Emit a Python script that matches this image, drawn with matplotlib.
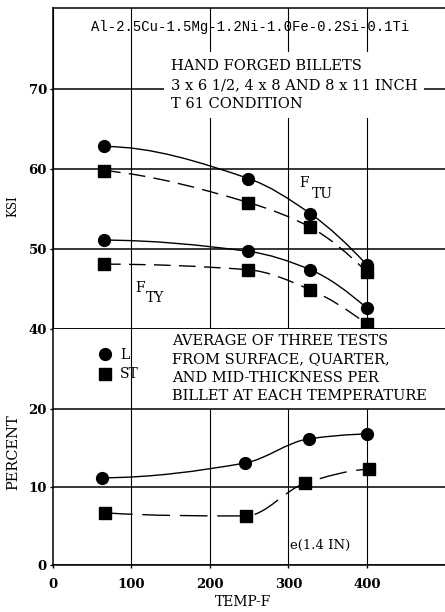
import matplotlib.pyplot as plt
import numpy as np
from matplotlib.path import Path
from matplotlib.patches import PathPatch
from matplotlib.lines import Line2D

plt.rcParams['font.family'] = ['DejaVu Serif']
plt.rcParams['lines.scale_dashes'] = False

# test temperatures, deg F
temp_tension = [65, 249, 328, 400]
temp_elong_L = [63, 245, 326, 400]
temp_elong_ST = [66, 246, 321, 402]

# tensile ultimate strength, ksi
ftu_L = [62.8, 58.8, 54.4, 48.0]
ftu_ST = [59.8, 55.8, 52.7, 47.1]
# tensile yield strength, ksi
fty_L = [51.1, 49.7, 47.4, 42.6]
fty_ST = [48.1, 47.4, 44.9, 40.6]
# elongation e(1.4 IN), percent
elong_L = [11.2, 13.1, 16.2, 16.8]
elong_ST = [6.7, 6.3, 10.5, 12.3]

ksi_ticks = [40, 50, 60, 70]
pct_ticks = [0, 10, 20]
temp_ticks = [0, 100, 200, 300, 400]


def pchip_slopes(x, y):
    h = np.diff(x)
    d = np.diff(y) / h
    m = np.zeros(len(x))
    for k in range(1, len(x) - 1):
        if d[k - 1] * d[k] > 0:
            w1 = 2 * h[k] + h[k - 1]
            w2 = h[k] + 2 * h[k - 1]
            m[k] = (w1 + w2) / (w1 / d[k - 1] + w2 / d[k])
    for k, (a, b, da, db) in ((0, (h[0], h[1], d[0], d[1])), (-1, (h[-1], h[-2], d[-1], d[-2]))):
        s = ((2 * a + b) * da - a * db) / (a + b)
        if s * da <= 0:
            s = 0
        elif da * db < 0 and abs(s) > abs(3 * da):
            s = 3 * da
        m[k] = s
    return m


def smooth_path(x, y):
    # monotone cubic through the points, written as bezier segments
    x = np.asarray(x, float)
    y = np.asarray(y, float)
    m = pchip_slopes(x, y)
    verts = [(x[0], y[0])]
    codes = [Path.MOVETO]
    for i in range(len(x) - 1):
        h = (x[i + 1] - x[i]) / 3
        verts += [(x[i] + h, y[i] + m[i] * h),
                  (x[i + 1] - h, y[i + 1] - m[i + 1] * h),
                  (x[i + 1], y[i + 1])]
        codes += [Path.CURVE4] * 3
    return Path(verts, codes)


def curve(ax, x, y, marker, dashes=None):
    ls = '-' if dashes is None else (0, dashes)
    ax.add_patch(PathPatch(smooth_path(x, y), fill=False, lw=1.0, ls=ls,
                           edgecolor='black', zorder=4))
    ax.plot(x, y, ls='none', marker=marker, ms=8.5 if marker == 'o' else 8,
            color='black', zorder=5)


W, H = 445, 612
fig = plt.figure(figsize=(W / 100, H / 100), dpi=100)
ax1 = fig.add_axes([53 / W, 1 - 329 / H, 392 / W, 321 / H])
ax2 = fig.add_axes([53 / W, 1 - 565 / H, 392 / W, 236 / H])

for ax in (ax1, ax2):
    ax.set_xlim(0, 499.4)
    ax.set_xticks(temp_ticks)
    ax.spines['right'].set_visible(False)
    for s in ax.spines.values():
        s.set_linewidth(1.1)
    ax.tick_params(length=2.5, width=1, pad=2, labelsize=9.5)

# strength panel
ax1.set_ylim(40, 80.1)
ax1.set_yticks(ksi_ticks)
ax1.tick_params(axis='x', length=0, labelbottom=False)
for lab in ax1.get_yticklabels():
    lab.set_fontweight('bold')
ax1.grid(axis='y', color='black', lw=1.1)
ax1.grid(axis='x', color='black', lw=0.8)

curve(ax1, temp_tension, ftu_L, 'o')
curve(ax1, temp_tension, ftu_ST, 's', (12, 6))
curve(ax1, temp_tension, fty_L, 'o')
curve(ax1, temp_tension, fty_ST, 's', (12, 6))

ax1.text(251, 77.75, 'Al-2.5Cu-1.5Mg-1.2Ni-1.0Fe-0.2Si-0.1Ti', family='Liberation Mono',
         fontsize=10, ha='center', va='center')
ax1.text(150, 70.5, 'HAND FORGED BILLETS\n3 x 6 1/2, 4 x 8 AND 8 x 11 INCH\nT 61 CONDITION',
         fontsize=10.5, ha='left', va='center', linespacing=1.45, zorder=6,
         bbox=dict(facecolor='white', edgecolor='none', pad=5))
ax1.text(320, 58.25, 'F', fontsize=10, ha='center', va='center', zorder=6)
ax1.text(343, 56.9, 'TU', fontsize=10, ha='center', va='center', zorder=6)
ax1.text(111, 45.1, 'F', fontsize=10, ha='center', va='center', zorder=6)
ax1.text(130, 43.9, 'TY', fontsize=10, ha='center', va='center', zorder=6)

# elongation panel
ax2.set_ylim(0, 30.3)
ax2.set_yticks(pct_ticks)
ax2.tick_params(axis='x', pad=7)
for lab in ax2.get_yticklabels() + ax2.get_xticklabels():
    lab.set_fontweight('bold')
ax2.spines['top'].set_visible(False)
ax2.grid(axis='y', color='black', lw=1.1)
ax2.axvline(100, color='black', lw=0.8, zorder=1)
ax2.vlines(temp_ticks[2:], 0, 20, color='black', lw=0.8, zorder=1)

curve(ax2, temp_elong_L, elong_L, 'o')
curve(ax2, temp_elong_ST, elong_ST, 's', (20, 7))

ax2.text(152, 25.2, 'AVERAGE OF THREE TESTS\nFROM SURFACE, QUARTER,\nAND MID-THICKNESS PER\n'
         'BILLET AT EACH TEMPERATURE', fontsize=10.5, ha='left', va='center',
         linespacing=1.4, zorder=6)
ax2.text(302, 2.57, 'e(1.4 IN)', fontsize=9.5, ha='left', va='center', zorder=6)

keys = [Line2D([], [], ls='none', marker='o', ms=8.5, color='black'),
        Line2D([], [], ls='none', marker='s', ms=8, color='black')]
ax2.legend(keys, ['L', 'ST'], loc='upper left', bbox_to_anchor=(0.114, 0.92),
           frameon=False, fontsize=10, handlelength=1.0, handletextpad=0.6,
           labelspacing=0.4, borderpad=0, borderaxespad=0)

fig.text(13 / W, 1 - 206 / H, 'KSI', rotation=90, fontsize=8.5, ha='center', va='center')
fig.text(13 / W, 1 - 452 / H, 'PERCENT', rotation=90, fontsize=10.5, ha='center', va='center')
fig.text(243 / W, 1 - 602 / H, 'TEMP-F', fontsize=10, ha='center', va='center')

fig.savefig('out.png', dpi=100)
